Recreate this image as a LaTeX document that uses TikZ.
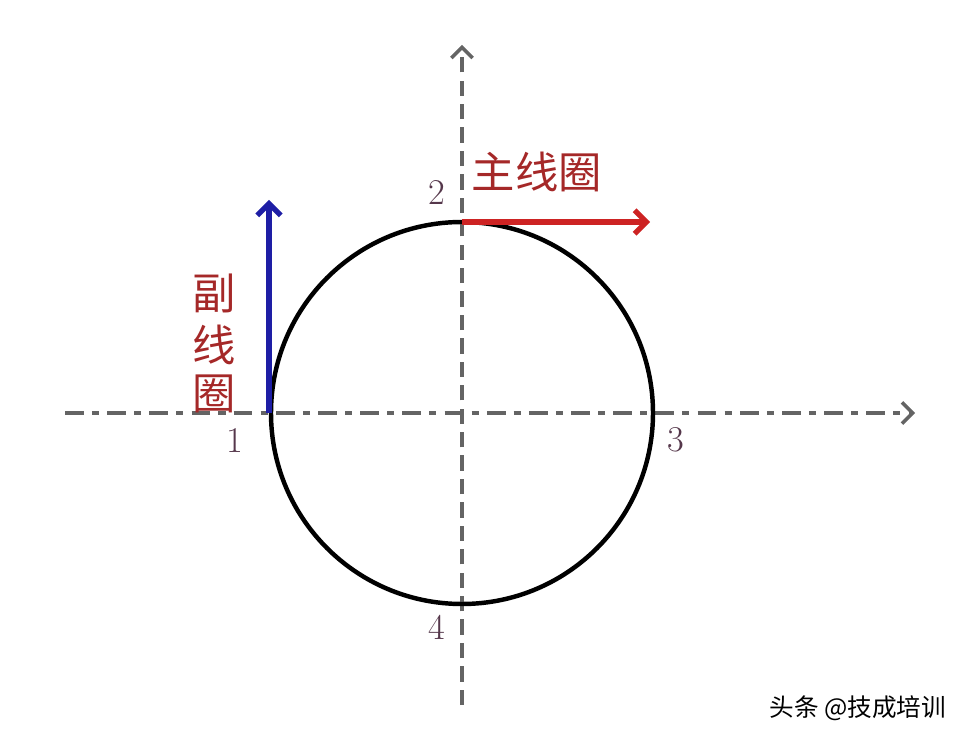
\documentclass[tikz,border=0pt]{standalone}
\usepackage{fontspec}
\newfontfamily\cjk{Noto Sans CJK SC}
\usepackage{xcolor}
\usetikzlibrary{arrows.meta}
\usetikzlibrary{positioning}

\definecolor{axisgray}{RGB}{100,100,100}
\definecolor{mainred}{RGB}{205,35,35}
\definecolor{labelred}{RGB}{165,40,40}
\definecolor{auxblue}{RGB}{30,30,165}
\definecolor{numcol}{RGB}{85,55,75}

\tikzset{
  axisline/.style={axisgray, line width=3.2pt, -{Straight Barb[length=9pt,width=18pt,line width=3pt]}},
  coilarrow/.style={line width=5pt, -{Straight Barb[length=10pt,width=20pt,line width=4.5pt]}},
  numlabel/.style={numcol, font=\fontsize{31}{31}\selectfont},
  coillabel/.style={labelred, font=\cjk\fontsize{37}{37}\selectfont, inner sep=0pt}
}

\begin{document}
\begin{tikzpicture}[x=0.03cm,y=-0.03cm]
  \useasboundingbox (0,0) rectangle (967,740);

  \coordinate (O) at (462,413);
  \coordinate (xl) at (65,413);
  \coordinate (xr) at (915,413);
  \coordinate (yb) at (462,705);
  \coordinate (yt) at (462,45);
  \coordinate (p1) at (269,413);
  \coordinate (p2) at (462,222);
  \coordinate (b1) at (269,200);
  \coordinate (r1) at (650,222);

  % axes
  \draw [axisline, dash pattern=on 16pt off 7pt on 6pt off 7pt] (xl) -- (xr);
  \draw [axisline, dash pattern=on 13pt off 7pt] (yb) -- (yt);

  \draw [line width=3.8pt] (O) circle (191);

  \draw [coilarrow, auxblue] (p1) -- (b1);
  \draw [coilarrow, mainred] (p2) -- (r1);

  \foreach \t/\x/\y in {1/235/440, 2/437/193, 3/676/440, 4/437/627}
  \node [numlabel] (n\t) at (\x,\y) {\t};

  \node [coillabel] (mainlbl) at (537,172) {主线圈};
  \foreach \c/\y [count=\i] in {副/293, 线/345, 圈/394}
  \node [coillabel] (auxlbl\i) at (214,\y) {\c};

  \node [font=\cjk\fontsize{21}{21}\selectfont] (mark) at (858,708) {头条 @技成培训};
\end{tikzpicture}
\end{document}
